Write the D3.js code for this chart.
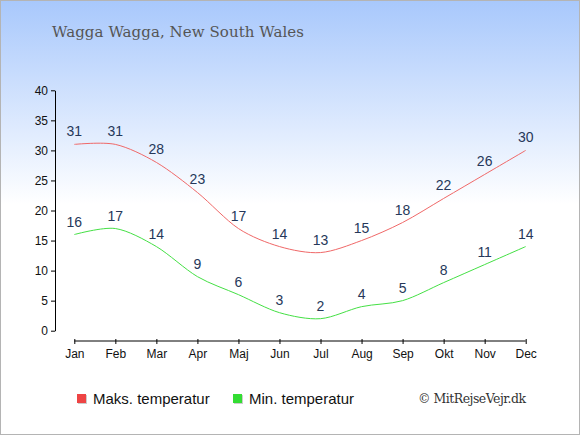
<!DOCTYPE html>
<html>
<head>
<meta charset="utf-8">
<script src="https://cdn.jsdelivr.net/npm/d3@7"></script>
<style>
  body { margin: 0; }
  svg { display: block; }
</style>
</head>
<body>
<script>
const months = ['Jan', 'Feb', 'Mar', 'Apr', 'Maj', 'Jun', 'Jul', 'Aug', 'Sep', 'Okt', 'Nov', 'Dec']
const maxTemp = [31, 31, 28, 23, 17, 14, 13, 15, 18, 22, 26, 30]
const minTemp = [16, 17, 14, 9, 6, 3, 2, 4, 5, 8, 11, 14]
const yTicks = [0, 5, 10, 15, 20, 25, 30, 35, 40]

const width = 580
const height = 435

const series = [
  { name: 'Maks. temperatur', values: maxTemp, line: '#f06868', swatch: '#ee4444' },
  { name: 'Min. temperatur', values: minTemp, line: '#44e044', swatch: '#33dd33' },
]

const svg = d3.select('body').append('svg')
  .attr('width', width)
  .attr('height', height)

const defs = svg.append('defs')
const grad = defs.append('linearGradient')
  .attr('id', 'bg')
  .attr('x1', 0).attr('y1', 0).attr('x2', 0).attr('y2', 1)
grad.append('stop').attr('offset', '0').attr('stop-color', '#a8c8fc')
grad.append('stop').attr('offset', '0.47').attr('stop-color', '#ffffff')
grad.append('stop').attr('offset', '1').attr('stop-color', '#ffffff')

svg.append('rect')
  .attr('x', 0.5).attr('y', 0.5)
  .attr('width', width - 1).attr('height', height - 1)
  .attr('fill', 'url(#bg)')
  .attr('stroke', '#b4b4b4')

// Title
svg.append('text')
  .attr('x', 52)
  .attr('y', 37)
  .attr('font-family', 'DejaVu Serif')
  .attr('font-size', 15)
  .attr('fill', '#555')
  .attr('textLength', 252)
  .text('Wagga Wagga, New South Wales')

const x = d3.scalePoint()
  .domain(months)
  .range([74.3, 525.7])

const y = d3.scaleLinear()
  .domain([0, 40])
  .range([330.7, 90.3])

// Y axis
svg.append('g')
  .attr('transform', 'translate(55,0)')
  .call(d3.axisLeft(y).tickValues(yTicks).tickSize(4).tickSizeOuter(0))
  .call(g => g.selectAll('text')
    .attr('font-family', 'Liberation Sans')
    .attr('font-size', 12)
    .attr('fill', '#111'))

// X axis
const xg = svg.append('g')
  .attr('transform', 'translate(0,341)')
  .call(d3.axisBottom(x).tickSize(4).tickSizeOuter(0))
xg.select('.domain').attr('d', `M${x('Jan')},0H${x('Dec')}`)
xg.selectAll('.tick line').attr('y1', -2).attr('y2', 3)
xg.selectAll('text')
  .attr('y', 8)
  .attr('font-family', 'Liberation Sans')
  .attr('font-size', 12)
  .attr('fill', '#111')

const line = d3.line()
  .x((d, i) => x(months[i]))
  .y(d => y(d))
  .curve(d3.curveCardinal.tension(0.1))

series.forEach(s => {
  svg.append('path')
    .datum(s.values)
    .attr('fill', 'none')
    .attr('stroke', s.line)
    .attr('stroke-width', 1)
    .attr('d', line)

  svg.append('g')
    .selectAll('text')
    .data(s.values)
    .join('text')
    .attr('x', (d, i) => x(months[i]))
    .attr('y', d => y(d) - 8)
    .attr('text-anchor', 'middle')
    .attr('font-family', 'Liberation Sans')
    .attr('font-size', 14)
    .attr('fill', '#26385a')
    .text(d => d)
})

// Legend
const legend = svg.append('g')
  .selectAll('g')
  .data(series)
  .join('g')
  .attr('transform', (d, i) => `translate(${77 + i * 156},394)`)

legend.append('rect')
  .attr('x', 1).attr('y', 1)
  .attr('width', 9).attr('height', 9)
  .attr('fill', '#cccccc')
legend.append('rect')
  .attr('width', 9).attr('height', 9)
  .attr('fill', d => d.swatch)
legend.append('text')
  .attr('x', 16)
  .attr('y', 10)
  .attr('font-family', 'Liberation Sans')
  .attr('font-size', 15)
  .attr('fill', '#111')
  .text(d => d.name)

svg.append('text')
  .attr('x', 418)
  .attr('y', 403)
  .attr('font-family', 'DejaVu Serif')
  .attr('font-size', 12.5)
  .attr('fill', '#333')
  .attr('textLength', 108)
  .text('© MitRejseVejr.dk')
</script>
</body>
</html>
